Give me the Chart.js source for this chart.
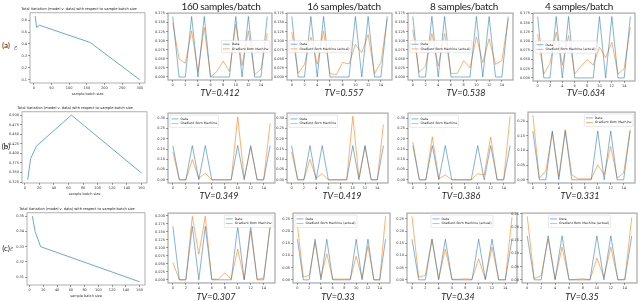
<!DOCTYPE html>
<html>
<head>
<meta charset="utf-8">
<script src="https://cdn.jsdelivr.net/npm/chart.js@4.4.0/dist/chart.umd.min.js"></script>
<style>
  body { margin: 0; width: 640px; height: 301px; background: #fff; position: relative; overflow: hidden; font-family: Lato, "Open Sans", sans-serif; }
  canvas { position: absolute; }
  .lbl { position: absolute; white-space: nowrap; color: #222; transform: translate(-50%, -50%); }
  .head { font-size: 10px; letter-spacing: -0.3px; }
  .tv { font-style: italic; font-size: 9px; }
  .row { font-size: 8px; }
</style>
</head>
<body>
<script>
// ---- data ----
const sampleIndex = [0, 1, 2, 3, 4, 5, 6, 7, 8, 9, 10, 11, 12, 13, 14, 15];
const smallXTicks = [0, 2, 4, 6, 8, 10, 12, 14];
const dataDist = [0.1667, 0, 0, 0.1667, 0, 0.1667, 0, 0, 0, 0, 0.1667, 0, 0.1667, 0, 0, 0.1667];

const gbmA160 = [0.149, 0.05, 0.038, 0.127, 0.015, 0.136, 0.0, 0.015, 0.044, 0.015, 0.145, 0.031, 0.127, 0.006, 0.022, 0.121];
const gbmA16 = [0.124, 0.01, 0.035, 0.11, 0.035, 0.126, 0.009, 0.007, 0.04, 0.036, 0.09, 0.067, 0.117, 0.009, 0.04, 0.16];
const gbmA8 = [0.13, 0.013, 0.03, 0.12, 0.03, 0.12, 0.01, 0.01, 0.045, 0.025, 0.11, 0.04, 0.105, 0.035, 0.045, 0.16];
const gbmA4 = [0.119, 0.011, 0.04, 0.124, 0.035, 0.115, 0.011, 0.031, 0.05, 0.035, 0.084, 0.055, 0.097, 0.011, 0.025, 0.137];

const gbmB160 = [0.135, 0, 0, 0.099, 0.008, 0.032, 0, 0, 0, 0, 0.307, 0.008, 0.159, 0, 0, 0.275];
const gbmB16 = [0.135, 0, 0, 0.1, 0.008, 0.03, 0, 0, 0, 0, 0.31, 0.01, 0.165, 0, 0, 0.27];
const gbmB8 = [0.185, 0, 0, 0.21, 0.005, 0.024, 0, 0, 0, 0, 0.03, 0.024, 0.209, 0, 0, 0.31];
const gbmB4 = [0.22, 0.006, 0.03, 0.163, 0.011, 0.171, 0.017, 0.003, 0.003, 0.003, 0.051, 0.017, 0.114, 0.006, 0.023, 0.171];

const gbmC160 = [0.054, 0, 0, 0.198, 0.08, 0.198, 0.002, 0.002, 0.021, 0.002, 0.096, 0, 0.153, 0.002, 0.005, 0.167];
const gbmC16 = [0.225, 0.011, 0.018, 0.154, 0.011, 0.107, 0.003, 0.003, 0.003, 0.003, 0.097, 0.007, 0.138, 0, 0, 0.261];
const gbmC8 = [0.261, 0.011, 0.018, 0.168, 0.004, 0.127, 0.002, 0.002, 0.004, 0.002, 0.086, 0.003, 0.134, 0, 0, 0.257];
const gbmC4 = [0.241, 0.004, 0.016, 0.155, 0.002, 0.124, 0, 0.002, 0.004, 0, 0.082, 0.01, 0.124, 0, 0.002, 0.237];

const batchA = [4, 8, 16, 160, 300];
const tvA = [0.634, 0.538, 0.557, 0.412, 0.1];
const batchB = [4, 8, 16, 64, 160];
const tvB = [0.331, 0.386, 0.419, 0.5, 0.349];
const batchC = [4, 8, 16, 160];
const tvC = [0.35, 0.34, 0.33, 0.307];

const ticksA = [0, 0.025, 0.05, 0.075, 0.1, 0.125, 0.15, 0.175];
const ticksB = [0, 0.05, 0.1, 0.15, 0.2, 0.25, 0.3];
const ticksB4 = [0, 0.05, 0.1, 0.15, 0.2];
const ticksC = [0, 0.05, 0.1, 0.15, 0.2, 0.25];
const ticksC160 = [0, 0.025, 0.05, 0.075, 0.1, 0.125, 0.15, 0.175, 0.2];

const bigXA = [0, 50, 100, 150, 200, 250, 300];
const bigXBC = [0, 20, 40, 60, 80, 100, 120, 140, 160];
const bigYA = [0.1, 0.2, 0.3, 0.4, 0.5, 0.6];
const bigYB = [0.325, 0.35, 0.375, 0.4, 0.425, 0.45, 0.475, 0.5];
const bigYC = [0.31, 0.32, 0.33, 0.34, 0.35];

const headings = ['160 samples/batch', '16 samples/batch', '8 samples/batch', '4 samples/batch'];
const tvLabels = [
  ['0.412', '0.557', '0.538', '0.634'],
  ['0.349', '0.419', '0.386', '0.331'],
  ['0.307', '0.33', '0.34', '0.35'],
];

// ---- helpers ----
const BLUE = 'rgba(31, 119, 180, 0.55)';
const ORANGE = 'rgba(255, 127, 14, 0.6)';
const TICK_FONT = { size: 3.5, family: 'DejaVu Sans' };

const toXY = (xs, ys) => xs.map((x, i) => ({ x, y: ys[i] }));

const framePlugin = {
  id: 'frame',
  afterDraw(chart, args, opts) {
    const { ctx, chartArea: a } = chart;
    ctx.save();
    ctx.strokeStyle = opts.color || 'rgba(0,0,0,0.35)';
    ctx.lineWidth = opts.width || 1.2;
    ctx.strokeRect(a.left, a.top, a.right - a.left, a.bottom - a.top);
    ctx.restore();
  },
};

const mplLegend = {
  id: 'mplLegend',
  afterDatasetsDraw(chart, args, opts) {
    if (!opts.where) return;
    const { ctx, chartArea: a } = chart;
    const fs = 3.2;
    const items = chart.data.datasets.map((d) => ({ text: d.label, color: d.borderColor }));
    ctx.save();
    ctx.font = `${fs}px "DejaVu Sans"`;
    const lineW = 7, gap = 2, pad = 1.5, rowH = fs * 1.45;
    const textW = Math.max(...items.map((i) => ctx.measureText(i.text).width));
    const w = pad * 2 + lineW + gap + textW;
    const h = pad * 2 + rowH * items.length;
    const [v, hz] = opts.where.split(' ');
    const x = hz === 'left' ? a.left + 2 : hz === 'right' ? a.right - 2 - w : (a.left + a.right - w) / 2;
    const y = v === 'upper' ? a.top + 2 : (a.top + a.bottom - h) / 2;
    ctx.fillStyle = 'rgba(255,255,255,0.85)';
    ctx.strokeStyle = '#d0d0d0';
    ctx.lineWidth = 0.5;
    ctx.beginPath();
    ctx.roundRect(x, y, w, h, 1);
    ctx.fill();
    ctx.stroke();
    items.forEach((it, i) => {
      const cy = y + pad + rowH * (i + 0.5);
      ctx.strokeStyle = it.color;
      ctx.lineWidth = 1;
      ctx.beginPath();
      ctx.moveTo(x + pad, cy);
      ctx.lineTo(x + pad + lineW, cy);
      ctx.stroke();
      ctx.fillStyle = '#222';
      ctx.textBaseline = 'middle';
      ctx.fillText(it.text, x + pad + lineW + gap, cy);
    });
    ctx.restore();
  },
};

function addCanvas(left, top, w, h) {
  const cv = document.createElement('canvas');
  cv.width = Math.round(w);
  cv.height = Math.round(h);
  cv.style.left = `${Math.round(left)}px`;
  cv.style.top = `${Math.round(top)}px`;
  cv.style.width = `${Math.round(w)}px`;
  cv.style.height = `${Math.round(h)}px`;
  document.body.appendChild(cv);
  return cv;
}

function addText(cls, text, x, y) {
  const d = document.createElement('div');
  d.className = `lbl ${cls}`;
  d.textContent = text;
  d.style.left = `${x}px`;
  d.style.top = `${y}px`;
  document.body.appendChild(d);
}

function axisCommon(fitKey, fitVal, tickList, fmt) {
  return {
    type: 'linear',
    afterBuildTicks: (s) => { s.ticks = tickList.map((value) => ({ value })); },
    afterFit: (s) => { s[fitKey] = fitVal; },
    ticks: { font: TICK_FONT, color: '#333', padding: 1, callback: fmt },
    grid: { drawOnChartArea: false, tickLength: 2, color: '#444', lineWidth: 0.5 },
    border: { display: false },
  };
}

function smallChart(p) {
  const yW = 14, xH = 8, padT = 3, padR = 2;
  const left = p.L - yW, top = p.T - padT;
  const cv = addCanvas(left, top, p.R + padR - left, p.B + xH - top);
  const x = axisCommon('height', xH, smallXTicks, (v) => v);
  x.min = -0.75; x.max = 15.75;
  const y = axisCommon('width', yW, p.yTicks, (v) => v.toFixed(p.dec));
  y.min = p.yMin; y.max = p.yMax;
  new Chart(cv, {
    type: 'line',
    data: {
      datasets: [
        { label: 'Data', data: toXY(sampleIndex, dataDist), borderColor: BLUE, borderWidth: 1, pointRadius: 0, tension: 0 },
        { label: p.gbmLabel, data: toXY(sampleIndex, p.gbm), borderColor: ORANGE, borderWidth: 1, pointRadius: 0, tension: 0 },
      ],
    },
    options: {
      responsive: false, animation: false, events: [],
      layout: { padding: { top: padT, right: padR, left: 0, bottom: 0 } },
      plugins: { legend: { display: false }, tooltip: { enabled: false }, mplLegend: { where: p.legend }, frame: {} },
      scales: { x, y },
    },
    plugins: [mplLegend, framePlugin],
  });
}

function bigChart(p) {
  const padT = 1, padR = 2, titleH = 3.6 * 1.2 + 1.5;
  const left = p.L - p.yW, top = p.T - padT - titleH;
  const cv = addCanvas(left, top, p.R + padR - left, p.B + p.xH - top);
  const x = axisCommon('height', p.xH, p.xTicks, (v) => v);
  x.min = p.xMin; x.max = p.xMax;
  x.title = { display: true, text: 'sample batch size', font: TICK_FONT, color: '#333', padding: 0.5 };
  const y = axisCommon('width', p.yW, p.yTicks, (v) => v.toFixed(p.dec));
  y.min = p.yMin; y.max = p.yMax;
  y.title = { display: true, text: 'TV', font: TICK_FONT, color: '#333', padding: 0.5 };
  new Chart(cv, {
    type: 'line',
    data: { datasets: [{ data: toXY(p.xs, p.ys), borderColor: '#4a8fc8', borderWidth: 0.8, pointRadius: 0, tension: 0 }] },
    options: {
      responsive: false, animation: false, events: [],
      layout: { padding: { top: padT, right: padR, left: 0, bottom: 0 } },
      plugins: {
        legend: { display: false }, tooltip: { enabled: false },
        title: { display: true, text: 'Total Variation (model v. data) with respect to sample batch size', font: { size: 3.6, family: 'DejaVu Sans', weight: 'normal' }, color: '#222', padding: { top: 0, bottom: 1.5 } },
        frame: { color: 'rgba(0,0,0,0.45)', width: 0.7 },
      },
      scales: { x, y },
    },
    plugins: [framePlugin],
  });
}

// ---- left column ----
bigChart({ L: 30, T: 13, R: 145, B: 83, yW: 17, xH: 14, xs: batchA, ys: tvA, xTicks: bigXA, xMin: -10.8, xMax: 314.8, yTicks: bigYA, yMin: 0.073, yMax: 0.661, dec: 1 });
bigChart({ L: 22, T: 112, R: 147, B: 183, yW: 19, xH: 14, xs: batchB, ys: tvB, xTicks: bigXBC, xMin: -3.8, xMax: 167.8, yTicks: bigYB, yMin: 0.3226, yMax: 0.5085, dec: 3 });
bigChart({ L: 27, T: 213, R: 145, B: 285, yW: 18, xH: 14, xs: batchC, ys: tvC, xTicks: bigXBC, xMin: -3.8, xMax: 167.8, yTicks: bigYC, yMin: 0.3049, yMax: 0.3522, dec: 2 });

// ---- small panels ----
const GBM = 'Gradient Born Machine';
const GBMA = 'Gradient Born Machine (actual)';
const rowA = { yTicks: ticksA, yMin: -0.0083, yMax: 0.176, dec: 3 };
smallChart({ ...rowA, L: 168, T: 13, R: 272, B: 80, gbm: gbmA160, gbmLabel: GBM, legend: 'center right' });
smallChart({ ...rowA, L: 287, T: 13, R: 392, B: 80, gbm: gbmA16, gbmLabel: GBMA, legend: 'center left' });
smallChart({ ...rowA, L: 408, T: 13, R: 513, B: 80, gbm: gbmA8, gbmLabel: GBMA, legend: 'center left' });
smallChart({ ...rowA, L: 533, T: 13, R: 635, B: 81, gbm: gbmA4, gbmLabel: GBMA, legend: 'center left' });

const rowB = { yTicks: ticksB, yMin: -0.0155, yMax: 0.3255, dec: 2 };
smallChart({ ...rowB, L: 168, T: 113, R: 275, B: 183, gbm: gbmB160, gbmLabel: GBM, legend: 'upper left' });
smallChart({ ...rowB, L: 287, T: 113, R: 388, B: 183, gbm: gbmB16, gbmLabel: GBM, legend: 'upper left' });
smallChart({ ...rowB, L: 408, T: 113, R: 515, B: 183, gbm: gbmB8, gbmLabel: GBM, legend: 'upper left' });
smallChart({ yTicks: ticksB4, yMin: -0.011, yMax: 0.231, dec: 2, L: 528, T: 112, R: 635, B: 183, gbm: gbmB4, gbmLabel: GBM, legend: 'upper right' });

const rowC = { yTicks: ticksC, yMin: -0.013, yMax: 0.274, dec: 2 };
smallChart({ yTicks: ticksC160, yMin: -0.0099, yMax: 0.208, dec: 3, L: 168, T: 213, R: 275, B: 283, gbm: gbmC160, gbmLabel: GBM, legend: 'upper right' });
smallChart({ ...rowC, L: 293, T: 213, R: 390, B: 283, gbm: gbmC16, gbmLabel: GBMA, legend: 'upper left' });
smallChart({ ...rowC, L: 407, T: 213, R: 517, B: 283, gbm: gbmC8, gbmLabel: GBMA, legend: 'upper center' });
smallChart({ ...rowC, yMin: -0.012, yMax: 0.253, L: 522, T: 213, R: 637, B: 283, gbm: gbmC4, gbmLabel: GBMA, legend: 'upper center' });

// ---- text ----
[221, 344, 464, 579].forEach((x, i) => addText('head', headings[i], x, 6));
const tvX = [[220, 344, 466, 586], [219, 342, 461, 580], [216, 338, 458, 582]];
const tvY = [92, 195, 296];
tvLabels.forEach((row, r) => row.forEach((t, c) => addText('tv', `TV=${t}`, tvX[r][c], tvY[r])));
addText('row', '(a)', 6, 45);
addText('row', '(b)', 6, 146);
addText('row', '(c)', 6, 248);
</script>
</body>
</html>
